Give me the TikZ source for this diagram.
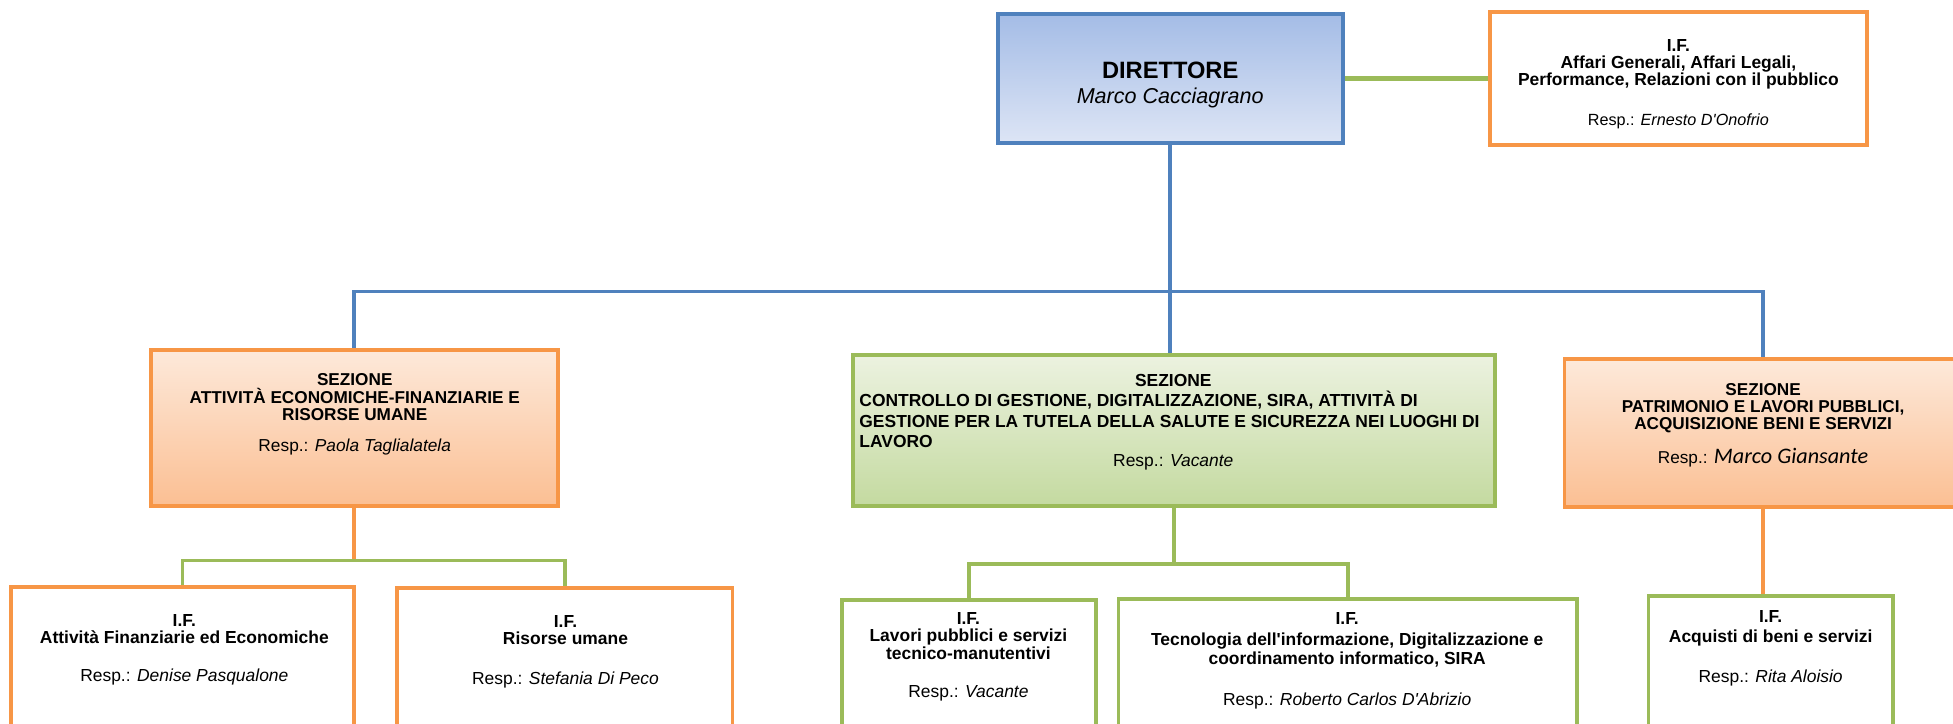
\documentclass[tikz,border=0pt]{standalone}
\usepackage{fontspec}
\setmainfont{Liberation Sans}
\newfontfamily\calib{Carlito}
\definecolor{blueC}{HTML}{4F81BD}
\definecolor{blT}{HTML}{A4BCE6}
\definecolor{blB}{HTML}{DDE5F5}
\definecolor{orangeC}{HTML}{F79646}
\definecolor{orT}{HTML}{FDE9DA}
\definecolor{orB}{HTML}{FBBF93}
\definecolor{greenC}{HTML}{9BBB59}
\definecolor{grT}{HTML}{ECF2E0}
\definecolor{grB}{HTML}{C4DAA0}
\newcommand\bfsz[1]{\fontsize{#1}{#1}\selectfont\bfseries}
\newcommand\rgsz[1]{\fontsize{#1}{#1}\selectfont}
\newcommand\itsz[1]{\fontsize{#1}{#1}\selectfont\itshape}
\newcommand\apo{\textquotesingle}
\begin{document}
\begin{tikzpicture}[x=1pt,y=-1pt,
  boxbase/.style={draw, line width=3pt, inner sep=0pt},
  dirbox/.style={boxbase, draw=blueC, top color=blT, bottom color=blB},
  obox/.style={boxbase, draw=orangeC, fill=white},
  gbox/.style={boxbase, draw=greenC, fill=white},
  ograd/.style={boxbase, draw=orangeC, top color=orT, bottom color=orB},
  ggrad/.style={boxbase, draw=greenC, top color=grT, bottom color=grB},
  t/.style={anchor=base, inner sep=0pt, outer sep=0pt},
  tl/.style={anchor=base west, inner sep=0pt, outer sep=0pt},
  bline/.style={draw=blueC, line width=3pt},
  gline/.style={draw=greenC, line width=3pt},
  oline/.style={draw=orangeC, line width=3pt}]
\useasboundingbox (0,0) rectangle (1568,580.5);
\clip (0,0) rectangle (1568,580.5);
\fill[white] (0,0) rectangle (1568,580.5);

% boxes
\node[dirbox, minimum width=277, minimum height=104] (dir) at (939.5,63) {};
\node[obox, minimum width=303, minimum height=107] (iftop) at (1347.5,62.9) {};
\node[ograd, minimum width=327, minimum height=125] (secL) at (284.5,343.5) {};
\node[ggrad, minimum width=515, minimum height=121] (secC) at (942.5,345.5) {};
\node[ograd, minimum width=319, minimum height=118.5] (secR) at (1415.5,347.75) {};
\node[obox, minimum width=275, minimum height=139] (if1) at (146.5,540.5) {};
\node[obox, minimum width=269, minimum height=138] (if2) at (453.5,541) {};
\node[gbox, minimum width=204, minimum height=128.3] (if3) at (778,545.85) {};
\node[gbox, minimum width=368, minimum height=128.8] (if4) at (1082,545.6) {};
\node[gbox, minimum width=196.5, minimum height=131.5] (if5) at (1421.75,544.25) {};

% connectors
\coordinate (bh) at (940,234);
\coordinate (gl) at (0,450);
\coordinate (gc) at (0,453);
\draw[gline, line width=3.5pt] (dir.east) -- (dir.east -| iftop.west);
\draw[bline] (dir.south) -- (dir.south |- secC.north);
\draw[bline] (secL.north) -- (secL.north |- bh) -- (secR.north |- bh) -- (secR.north);
\draw[oline] (secL.south) -- (secL.south |- gl);
\draw[gline] (if1.north) -- (if1.north |- gl) -- (if2.north |- gl) -- (if2.north);
\draw[gline] (secC.south) -- (secC.south |- gc);
\draw[gline] (if3.north) -- (if3.north |- gc) -- (if4.north |- gc) -- (if4.north);
\draw[oline] (secR.south) -- (secR.south |- if5.north);

% director
\node[t, font=\bfsz{19}] (dirA) at (939.5,63) {DIRETTORE};
\node[t, font=\itsz{17.3}] (dirB) at (939.5,83) {Marco Cacciagrano};

% I.F. top
\node[t, font=\bfsz{14}] (ift1) at (1347.5,41.5) {I.F.};
\node[t, font=\bfsz{14}] (ift2) at (1347.5,55) {Affari Generali, Affari Legali,};
\node[t, font=\bfsz{14}] (ift3) at (1347.5,69) {Performance, Relazioni con il pubblico};
\node[t, font=\rgsz{13}] (ift4) at (1347.5,101) {Resp.: \textit{Ernesto D\apo Onofrio}};

% Sezione left
\node[t, font=\bfsz{13.8}] (sl1) at (284.8,309.7) {SEZIONE};
\node[t, font=\bfsz{13.8}] (sl2) at (284.8,323.8) {ATTIVITÀ ECONOMICHE-FINANZIARIE E};
\node[t, font=\bfsz{13.8}] (sl3) at (284.8,338) {RISORSE UMANE};
\node[t, font=\rgsz{13.9}] (sl4) at (284.8,362.6) {Resp.: \textit{Paola Taglialatela}};

% Sezione centre
\node[t, font=\bfsz{14}] (sc1) at (942,310.5) {SEZIONE};
\node[tl, font=\bfsz{14}] (sc2) at (690,326.7) {CONTROLLO DI GESTIONE, DIGITALIZZAZIONE, SIRA, ATTIVITÀ DI};
\node[tl, font=\bfsz{14}] (sc3) at (690,343) {GESTIONE PER LA TUTELA DELLA SALUTE E SICUREZZA NEI LUOGHI DI};
\node[tl, font=\bfsz{14}] (sc4) at (690,359.3) {LAVORO};
\node[t, font=\rgsz{14}] (sc5) at (942,374.4) {Resp.: \textit{Vacante}};

% Sezione right
\node[t, font=\bfsz{13.8}] (sr1) at (1415.5,317.2) {SEZIONE};
\node[t, font=\bfsz{13.8}] (sr2) at (1415.5,331.3) {PATRIMONIO E LAVORI PUBBLICI,};
\node[t, font=\bfsz{13.8}] (sr3) at (1415.5,345.2) {ACQUISIZIONE BENI E SERVIZI};
\node[t, font=\rgsz{13.8}] (sr4) at (1415.5,372) {Resp.: {\calib\itshape\fontsize{17.8}{18}\selectfont Marco Giansante}};

% I.F. 1
\node[t, font=\bfsz{14}] (a1) at (148,502.6) {I.F.};
\node[t, font=\bfsz{14}] (a2) at (148,517) {Attività Finanziarie ed Economiche};
\node[t, font=\rgsz{14}] (a3) at (148,547.3) {Resp.: \textit{Denise Pasqualone}};

% I.F. 2
\node[t, font=\bfsz{14}] (b1) at (454,503.7) {I.F.};
\node[t, font=\bfsz{14}] (b2) at (454,517.8) {Risorse umane};
\node[t, font=\rgsz{14}] (b3) at (454,549.4) {Resp.: \textit{Stefania Di Peco}};

% I.F. 3
\node[t, font=\bfsz{14}] (c1) at (777.5,501) {I.F.};
\node[t, font=\bfsz{14}] (c2) at (777.5,514.7) {Lavori pubblici e servizi};
\node[t, font=\bfsz{14}] (c3) at (777.5,529.4) {tecnico-manutentivi};
\node[t, font=\rgsz{14}] (c4) at (777.5,559.9) {Resp.: \textit{Vacante}};

% I.F. 4
\node[t, font=\bfsz{14}] (d1) at (1081.6,501) {I.F.};
\node[t, font=\bfsz{14}] (d2) at (1081.6,517.9) {Tecnologia dell\apo informazione, Digitalizzazione e};
\node[t, font=\bfsz{14}] (d3) at (1081.6,533.9) {coordinamento informatico, SIRA};
\node[t, font=\rgsz{14}] (d4) at (1081.6,566.6) {Resp.: \textit{Roberto Carlos D\apo Abrizio}};

% I.F. 5
\node[t, font=\bfsz{14}] (e1) at (1421.6,500) {I.F.};
\node[t, font=\bfsz{14}] (e2) at (1421.6,516) {Acquisti di beni e servizi};
\node[t, font=\rgsz{14}] (e3) at (1421.6,548) {Resp.: \textit{Rita Aloisio}};
\end{tikzpicture}
\end{document}
